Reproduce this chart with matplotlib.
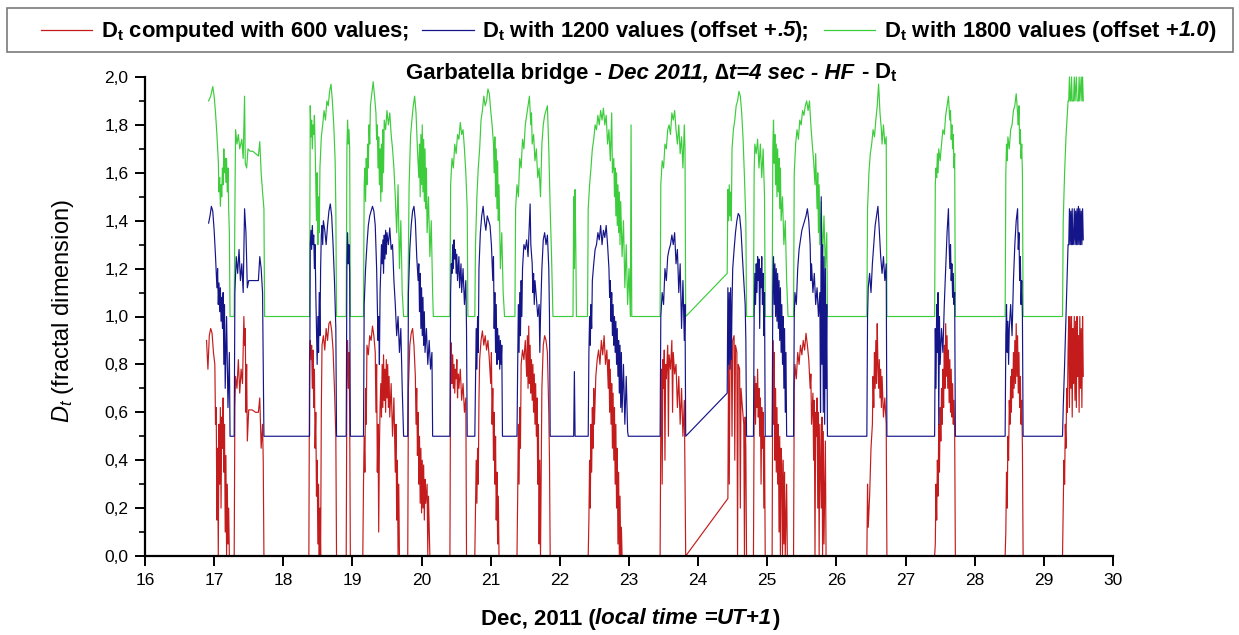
import matplotlib
matplotlib.use("Agg")
import matplotlib.pyplot as plt
from matplotlib.offsetbox import TextArea, HPacker, AnchoredOffsetbox, DrawingArea
from matplotlib.lines import Line2D
from matplotlib.patches import Rectangle
from matplotlib.ticker import MultipleLocator, FuncFormatter

plt.rcParams['font.family'] = 'Liberation Sans'
plt.rcParams['mathtext.fontset'] = 'custom'
plt.rcParams['mathtext.rm'] = 'Liberation Sans'
plt.rcParams['mathtext.it'] = 'Liberation Sans:italic'
plt.rcParams['mathtext.bf'] = 'Liberation Sans:bold'

# D_t computed with 600 values (time in days of Dec 2011, value)
red_pts = [
    (16.89, 0.90), (16.91, 0.78), (16.93, 0.92), (16.95, 0.95), (16.97, 0.93), (16.99, 0.85), (17.01, 0.80),
    (17.02, 0.55), (17.03, 0.62), (17.04, 0.15), (17.05, 0.45), (17.06, 0.00), (17.07, 0.55), (17.08, 0.30),
    (17.09, 0.62), (17.10, 0.20), (17.11, 0.58), (17.12, 0.45), (17.13, 0.66), (17.14, 0.35), (17.15, 0.55),
    (17.16, 0.10), (17.17, 0.42), (17.18, 0.00), (17.19, 0.30), (17.20, 0.05), (17.21, 0.20), (17.22, 0.00),
    (17.29, 0.00), (17.30, 0.62), (17.31, 0.75), (17.33, 0.70), (17.35, 0.82), (17.37, 0.68), (17.39, 0.78),
    (17.41, 0.72), (17.43, 1.00), (17.44, 0.88), (17.45, 0.95), (17.46, 0.60), (17.47, 0.80), (17.48, 0.48),
    (17.50, 0.61), (17.55, 0.61), (17.60, 0.60), (17.64, 0.60), (17.66, 0.66), (17.68, 0.45), (17.70, 0.55),
    (17.71, 0.40), (17.72, 0.00), (18.37, 0.00),
    (18.38, 0.85), (18.39, 0.90), (18.40, 0.82), (18.41, 0.88), (18.42, 0.70), (18.43, 0.86), (18.44, 0.62),
    (18.45, 0.78), (18.46, 0.45), (18.47, 0.60), (18.48, 0.25), (18.49, 0.40), (18.50, 0.05), (18.51, 0.30),
    (18.52, 0.00), (18.53, 0.20), (18.54, 0.00), (18.55, 0.60), (18.56, 0.88), (18.58, 0.92), (18.60, 0.86),
    (18.62, 0.95), (18.64, 0.90), (18.66, 0.97), (18.68, 0.98), (18.70, 0.94), (18.72, 0.86), (18.74, 0.70),
    (18.76, 0.50), (18.77, 0.00), (18.91, 0.00), (18.92, 0.75), (18.93, 0.90), (18.94, 0.70), (18.95, 0.85),
    (18.96, 0.60), (18.97, 0.00), (19.15, 0.00),
    (19.16, 0.30), (19.17, 0.50), (19.18, 0.35), (19.19, 0.70), (19.20, 0.55), (19.21, 0.88), (19.23, 0.84),
    (19.25, 0.92), (19.27, 0.90), (19.29, 0.96), (19.31, 0.92), (19.33, 0.85), (19.34, 0.60), (19.35, 0.80),
    (19.36, 0.35), (19.37, 0.55), (19.38, 0.10), (19.39, 0.45), (19.40, 0.62), (19.41, 0.72), (19.42, 0.58),
    (19.43, 0.80), (19.44, 0.62), (19.45, 0.84), (19.46, 0.65), (19.47, 0.78), (19.48, 0.60), (19.49, 0.82),
    (19.50, 0.66), (19.51, 0.80), (19.52, 0.62), (19.53, 0.75), (19.54, 0.58), (19.56, 0.72), (19.58, 0.50),
    (19.60, 0.66), (19.62, 0.35), (19.63, 0.55), (19.64, 0.15), (19.65, 0.40), (19.66, 0.00), (19.67, 0.30),
    (19.68, 0.00), (19.80, 0.00), (19.81, 0.70), (19.83, 0.88), (19.85, 0.93), (19.87, 0.95), (19.89, 0.88),
    (19.91, 0.75), (19.92, 0.55), (19.93, 0.70), (19.94, 0.42), (19.95, 0.60), (19.96, 0.30), (19.97, 0.50),
    (19.98, 0.22), (19.99, 0.45), (20.00, 0.18), (20.01, 0.40), (20.02, 0.20), (20.03, 0.38), (20.04, 0.15),
    (20.05, 0.32), (20.06, 0.22), (20.08, 0.30), (20.09, 0.00), (20.10, 0.25), (20.12, 0.00), (20.41, 0.00),
    (20.42, 0.80), (20.43, 0.89), (20.44, 0.72), (20.45, 0.84), (20.46, 0.70), (20.47, 0.80), (20.48, 0.68),
    (20.49, 0.78), (20.50, 0.74), (20.51, 0.82), (20.52, 0.66), (20.53, 0.76), (20.54, 0.70), (20.56, 0.78),
    (20.58, 0.65), (20.60, 0.72), (20.62, 0.60), (20.64, 0.66), (20.65, 0.00), (20.77, 0.00),
    (20.78, 0.20), (20.79, 0.40), (20.80, 0.22), (20.81, 0.45), (20.82, 0.30), (20.83, 0.65), (20.84, 0.82),
    (20.86, 0.90), (20.88, 0.94), (20.90, 0.88), (20.92, 0.92), (20.94, 0.86), (20.96, 0.90), (20.98, 0.82),
    (21.00, 0.72), (21.01, 0.85), (21.02, 0.55), (21.03, 0.70), (21.04, 0.40), (21.05, 0.60), (21.06, 0.30),
    (21.07, 0.50), (21.08, 0.15), (21.09, 0.35), (21.10, 0.05), (21.11, 0.25), (21.12, 0.00), (21.38, 0.00),
    (21.39, 0.25), (21.40, 0.55), (21.41, 0.30), (21.42, 0.62), (21.43, 0.45), (21.44, 0.80), (21.46, 0.86),
    (21.48, 0.82), (21.50, 0.90), (21.52, 0.75), (21.53, 0.92), (21.54, 0.70), (21.55, 0.96), (21.56, 0.72),
    (21.57, 0.88), (21.58, 0.68), (21.59, 0.82), (21.60, 0.65), (21.61, 0.80), (21.62, 0.60), (21.63, 0.76),
    (21.64, 0.55), (21.65, 0.72), (21.66, 0.50), (21.67, 0.66), (21.68, 0.30), (21.69, 0.55), (21.70, 0.05),
    (21.71, 0.40), (21.72, 0.00), (21.74, 0.70), (21.76, 0.88), (21.78, 0.92), (21.80, 0.90), (21.82, 0.85),
    (21.84, 0.60), (21.85, 0.40), (21.86, 0.00), (22.41, 0.00),
    (22.42, 0.15), (22.43, 0.40), (22.44, 0.20), (22.45, 0.55), (22.46, 0.35), (22.47, 0.62), (22.48, 0.45),
    (22.49, 0.70), (22.50, 0.55), (22.52, 0.75), (22.54, 0.82), (22.56, 0.86), (22.58, 0.80), (22.60, 0.90),
    (22.62, 0.84), (22.64, 0.92), (22.66, 0.80), (22.68, 0.86), (22.70, 0.70), (22.71, 0.82), (22.72, 0.60),
    (22.73, 0.78), (22.74, 0.55), (22.75, 0.72), (22.76, 0.45), (22.77, 0.68), (22.78, 0.40), (22.79, 0.62),
    (22.80, 0.30), (22.81, 0.55), (22.82, 0.20), (22.83, 0.45), (22.84, 0.05), (22.85, 0.35), (22.86, 0.00),
    (22.87, 0.25), (22.88, 0.00), (22.89, 0.12), (22.90, 0.00), (23.45, 0.00),
    (23.46, 0.55), (23.47, 0.78), (23.48, 0.30), (23.49, 0.82), (23.50, 0.70), (23.51, 0.86), (23.52, 0.40),
    (23.53, 0.80), (23.54, 0.74), (23.56, 0.88), (23.57, 0.50), (23.58, 0.84), (23.60, 0.78), (23.62, 0.90),
    (23.63, 0.60), (23.64, 0.85), (23.66, 0.76), (23.68, 0.80), (23.70, 0.62), (23.72, 0.75), (23.74, 0.55),
    (23.76, 0.70), (23.78, 0.50), (23.80, 0.65), (23.82, 0.00),
    (24.43, 0.24), (24.44, 0.80), (24.45, 0.30), (24.46, 0.78), (24.47, 0.85), (24.48, 0.88), (24.49, 0.50),
    (24.50, 0.90), (24.52, 0.92), (24.53, 0.40), (24.54, 0.88), (24.56, 0.85), (24.57, 0.00), (24.58, 0.80),
    (24.60, 0.78), (24.61, 0.20), (24.62, 0.70), (24.64, 0.62), (24.66, 0.55), (24.67, 0.00), (24.68, 0.58),
    (24.69, 0.45), (24.70, 0.00), (24.80, 0.00), (24.81, 0.60), (24.82, 0.75), (24.83, 0.55), (24.84, 0.72),
    (24.85, 0.62), (24.86, 0.78), (24.87, 0.58), (24.88, 0.70), (24.89, 0.50), (24.90, 0.66), (24.91, 0.30),
    (24.92, 0.62), (24.93, 0.45), (24.94, 0.60), (24.95, 0.20), (24.96, 0.50), (24.97, 0.00), (25.07, 0.00),
    (25.08, 0.90), (25.09, 0.55), (25.10, 0.85), (25.11, 0.40), (25.12, 0.70), (25.13, 0.35), (25.14, 0.62),
    (25.15, 0.30), (25.16, 0.55), (25.17, 0.10), (25.18, 0.50), (25.19, 0.00), (25.20, 0.45), (25.21, 0.38),
    (25.22, 0.00), (25.23, 0.40), (25.24, 0.05), (25.25, 0.35), (25.26, 0.00), (25.28, 0.30), (25.29, 0.00),
    (25.38, 0.00), (25.39, 0.70), (25.40, 0.80), (25.42, 0.74), (25.44, 0.85), (25.46, 0.80), (25.48, 0.88),
    (25.50, 0.84), (25.52, 0.90), (25.54, 0.86), (25.56, 0.93), (25.58, 0.88), (25.60, 0.82), (25.62, 0.70),
    (25.63, 0.76), (25.64, 0.55), (25.66, 0.68), (25.67, 0.40), (25.68, 0.65), (25.69, 0.00), (25.70, 0.60),
    (25.71, 0.50), (25.72, 0.66), (25.73, 0.20), (25.74, 0.60), (25.75, 0.00), (25.76, 0.55), (25.78, 0.20),
    (25.79, 0.58), (25.80, 0.00), (25.81, 0.52), (25.82, 0.05), (25.84, 0.48), (25.85, 0.00), (26.44, 0.00),
    (26.45, 0.30), (26.46, 0.12), (26.48, 0.25), (26.50, 0.45), (26.52, 0.55), (26.53, 0.75), (26.54, 0.62),
    (26.55, 0.85), (26.56, 0.70), (26.57, 0.90), (26.58, 0.72), (26.59, 0.97), (26.60, 0.80), (26.61, 0.70),
    (26.62, 0.82), (26.63, 0.66), (26.64, 0.78), (26.65, 0.62), (26.66, 0.75), (26.68, 0.58), (26.70, 0.66),
    (26.72, 0.55), (26.73, 0.00), (27.42, 0.00),
    (27.43, 0.05), (27.44, 0.30), (27.45, 0.15), (27.46, 0.40), (27.47, 0.25), (27.48, 0.55), (27.49, 0.35),
    (27.50, 0.62), (27.51, 0.48), (27.52, 0.70), (27.53, 0.55), (27.54, 0.78), (27.55, 0.62), (27.56, 0.88),
    (27.57, 0.70), (27.58, 0.97), (27.59, 0.75), (27.60, 0.92), (27.61, 0.70), (27.62, 0.86), (27.63, 0.64),
    (27.64, 0.82), (27.65, 0.60), (27.66, 0.78), (27.67, 0.58), (27.68, 0.72), (27.69, 0.55), (27.70, 0.65),
    (27.71, 0.52), (27.72, 0.00), (28.44, 0.00),
    (28.45, 0.10), (28.46, 0.35), (28.47, 0.20), (28.48, 0.50), (28.49, 0.40), (28.50, 0.65), (28.51, 0.55),
    (28.52, 0.75), (28.53, 0.60), (28.54, 0.78), (28.55, 0.66), (28.56, 0.85), (28.57, 0.70), (28.58, 0.90),
    (28.59, 0.72), (28.60, 0.97), (28.61, 0.75), (28.62, 0.92), (28.63, 0.68), (28.64, 0.85), (28.65, 0.62),
    (28.66, 0.75), (28.67, 0.55), (28.68, 0.65), (28.69, 0.45), (28.70, 0.00), (29.27, 0.00),
    (29.28, 0.20), (29.29, 0.40), (29.30, 0.30), (29.31, 0.55), (29.32, 0.45), (29.33, 0.70), (29.34, 0.60),
    (29.35, 0.85), (29.36, 1.00), (29.37, 0.62), (29.38, 1.00), (29.39, 0.70), (29.40, 1.00), (29.41, 0.58),
    (29.42, 0.95), (29.43, 0.72), (29.44, 1.00), (29.45, 0.65), (29.46, 0.98), (29.47, 0.62), (29.48, 1.00),
    (29.49, 0.75), (29.50, 0.92), (29.51, 0.60), (29.52, 1.00), (29.53, 0.70), (29.54, 0.95), (29.55, 0.62),
    (29.56, 1.00), (29.57, 0.75),
]

# D_t with 1200 values, offset +0.5
blue_pts = [
    (16.92, 1.39), (16.94, 1.42), (16.96, 1.46), (16.98, 1.44), (17.00, 1.36), (17.02, 1.25), (17.04, 1.12),
    (17.05, 1.20), (17.06, 1.05), (17.07, 1.14), (17.08, 1.02), (17.09, 1.12), (17.10, 0.98), (17.11, 1.08),
    (17.12, 0.95), (17.13, 1.10), (17.14, 0.80), (17.15, 1.05), (17.16, 0.70), (17.18, 1.00), (17.20, 0.62),
    (17.22, 0.85), (17.23, 0.50), (17.29, 0.50), (17.30, 1.10), (17.32, 1.25), (17.34, 1.18), (17.36, 1.28),
    (17.38, 1.15), (17.40, 1.22), (17.42, 1.10), (17.44, 1.45), (17.45, 1.40), (17.46, 1.35), (17.48, 1.12),
    (17.50, 1.15), (17.55, 1.15), (17.60, 1.15), (17.64, 1.15), (17.66, 1.25), (17.68, 1.20), (17.70, 1.10),
    (17.72, 0.50), (18.38, 0.50),
    (18.39, 1.30), (18.40, 1.36), (18.41, 1.28), (18.42, 1.38), (18.43, 1.30), (18.44, 1.34), (18.45, 1.20),
    (18.46, 1.30), (18.47, 1.10), (18.48, 0.95), (18.49, 0.80), (18.50, 1.00), (18.51, 0.85), (18.52, 1.10),
    (18.53, 0.92), (18.54, 1.20), (18.55, 1.34), (18.56, 1.38), (18.57, 1.30), (18.58, 1.40), (18.60, 1.36),
    (18.62, 1.30), (18.64, 1.38), (18.66, 1.44), (18.68, 1.47), (18.70, 1.42), (18.72, 1.30), (18.74, 1.15),
    (18.76, 0.95), (18.77, 0.50), (18.91, 0.50), (18.92, 1.20), (18.93, 1.35), (18.94, 1.22), (18.95, 1.30),
    (18.96, 1.18), (18.97, 0.50), (19.16, 0.50),
    (19.17, 1.05), (19.19, 1.20), (19.21, 1.30), (19.23, 1.38), (19.25, 1.42), (19.27, 1.44), (19.29, 1.46),
    (19.31, 1.44), (19.33, 1.38), (19.35, 1.20), (19.36, 1.05), (19.37, 0.90), (19.38, 1.00), (19.39, 0.80),
    (19.40, 1.10), (19.41, 1.20), (19.42, 1.30), (19.43, 1.22), (19.44, 1.32), (19.45, 1.18), (19.46, 1.34),
    (19.47, 1.24), (19.48, 1.36), (19.49, 1.26), (19.50, 1.35), (19.52, 1.30), (19.54, 1.37), (19.56, 1.28),
    (19.58, 1.30), (19.60, 1.15), (19.62, 1.05), (19.64, 0.92), (19.66, 1.00), (19.68, 0.85), (19.70, 0.95),
    (19.72, 0.70), (19.74, 0.50), (19.80, 0.50), (19.81, 1.10), (19.83, 1.28), (19.85, 1.38), (19.87, 1.44),
    (19.89, 1.46), (19.91, 1.40), (19.93, 1.25), (19.95, 1.15), (19.96, 1.22), (19.97, 1.02), (19.98, 1.18),
    (19.99, 0.95), (20.00, 1.12), (20.01, 0.92), (20.02, 1.08), (20.03, 0.88), (20.04, 1.02), (20.05, 0.85),
    (20.07, 0.95), (20.09, 0.80), (20.11, 0.90), (20.13, 0.78), (20.15, 0.85), (20.16, 0.50), (20.41, 0.50),
    (20.42, 1.10), (20.43, 1.22), (20.44, 1.18), (20.45, 1.30), (20.46, 1.20), (20.47, 1.32), (20.48, 1.24),
    (20.49, 1.28), (20.50, 1.18), (20.51, 1.26), (20.52, 1.15), (20.54, 1.25), (20.55, 1.12), (20.57, 1.22),
    (20.58, 1.10), (20.60, 1.20), (20.62, 1.05), (20.64, 1.15), (20.65, 0.95), (20.66, 0.50), (20.77, 0.50),
    (20.78, 0.72), (20.79, 0.95), (20.80, 0.78), (20.81, 1.00), (20.82, 0.85), (20.83, 1.20), (20.85, 1.35),
    (20.87, 1.42), (20.89, 1.46), (20.91, 1.40), (20.93, 1.36), (20.95, 1.42), (20.97, 1.40), (20.99, 1.38),
    (21.01, 1.30), (21.03, 1.15), (21.04, 1.25), (21.05, 0.95), (21.06, 1.10), (21.07, 0.85), (21.08, 1.05),
    (21.09, 0.80), (21.10, 0.95), (21.11, 0.82), (21.12, 0.92), (21.13, 0.78), (21.14, 0.90), (21.15, 0.80),
    (21.16, 0.88), (21.17, 0.50), (21.38, 0.50),
    (21.39, 0.80), (21.40, 1.05), (21.41, 0.85), (21.42, 1.10), (21.43, 0.92), (21.44, 1.15), (21.45, 1.00),
    (21.46, 1.20), (21.48, 1.30), (21.50, 1.28), (21.52, 1.32), (21.54, 1.25), (21.56, 1.40), (21.57, 1.47),
    (21.58, 1.30), (21.60, 1.22), (21.61, 1.10), (21.62, 1.18), (21.63, 1.05), (21.64, 1.15), (21.66, 1.08),
    (21.68, 1.00), (21.70, 1.05), (21.71, 0.85), (21.72, 1.00), (21.74, 1.20), (21.76, 1.32), (21.78, 1.35),
    (21.80, 1.30), (21.82, 1.34), (21.84, 1.20), (21.85, 1.00), (21.86, 0.50), (22.20, 0.50), (22.21, 0.77),
    (22.22, 0.50), (22.41, 0.50),
    (22.42, 0.85), (22.43, 1.00), (22.44, 0.88), (22.45, 1.05), (22.46, 0.95), (22.47, 1.15), (22.49, 1.22),
    (22.51, 1.28), (22.53, 1.30), (22.55, 1.35), (22.57, 1.32), (22.59, 1.38), (22.61, 1.30), (22.63, 1.36),
    (22.65, 1.33), (22.67, 1.38), (22.69, 1.30), (22.71, 1.20), (22.72, 1.08), (22.73, 1.15), (22.74, 0.98),
    (22.75, 1.10), (22.76, 0.92), (22.77, 1.05), (22.78, 0.88), (22.79, 1.00), (22.80, 0.85), (22.81, 0.98),
    (22.82, 0.80), (22.83, 0.95), (22.84, 0.75), (22.85, 0.90), (22.86, 0.68), (22.87, 0.88), (22.88, 0.62),
    (22.89, 0.85), (22.90, 0.60), (22.92, 0.80), (22.94, 0.55), (22.96, 0.75), (22.98, 0.52), (22.99, 0.50),
    (23.45, 0.50), (23.46, 1.00), (23.48, 1.10), (23.50, 1.05), (23.52, 1.20), (23.54, 1.15), (23.56, 1.25),
    (23.58, 1.28), (23.60, 1.30), (23.62, 1.34), (23.64, 1.30), (23.66, 1.35), (23.68, 1.22), (23.70, 1.28),
    (23.72, 1.10), (23.74, 1.22), (23.76, 0.95), (23.78, 1.15), (23.80, 0.90), (23.81, 1.05), (23.82, 0.50),
    (24.42, 0.68), (24.43, 1.12), (24.44, 0.80), (24.45, 1.10), (24.46, 0.78), (24.47, 1.12), (24.48, 0.82),
    (24.49, 1.05), (24.50, 1.20), (24.52, 1.28), (24.54, 1.35), (24.56, 1.40), (24.58, 1.43), (24.60, 1.42),
    (24.62, 1.36), (24.64, 1.25), (24.66, 1.15), (24.68, 1.05), (24.69, 0.90), (24.70, 0.50), (24.80, 0.50),
    (24.81, 1.00), (24.82, 1.18), (24.83, 1.05), (24.84, 1.22), (24.85, 1.10), (24.86, 1.25), (24.87, 1.15),
    (24.88, 1.24), (24.89, 0.95), (24.90, 1.20), (24.91, 1.12), (24.92, 1.25), (24.93, 1.05), (24.94, 1.18),
    (24.95, 0.92), (24.96, 1.10), (24.97, 0.50), (25.07, 0.50),
    (25.08, 1.10), (25.09, 1.25), (25.10, 1.05), (25.11, 1.22), (25.12, 1.00), (25.13, 1.20), (25.14, 0.98),
    (25.15, 1.18), (25.16, 0.95), (25.17, 1.15), (25.18, 0.90), (25.19, 1.12), (25.20, 0.85), (25.21, 1.05),
    (25.22, 0.80), (25.23, 1.00), (25.24, 0.70), (25.25, 0.95), (25.26, 0.60), (25.27, 0.85), (25.28, 0.50),
    (25.38, 0.50), (25.39, 1.00), (25.40, 1.10), (25.42, 1.05), (25.44, 1.20), (25.46, 1.28), (25.48, 1.32),
    (25.50, 1.36), (25.52, 1.38), (25.54, 1.40), (25.56, 1.42), (25.58, 1.45), (25.60, 1.40), (25.62, 1.30),
    (25.63, 1.15), (25.64, 1.22), (25.66, 1.10), (25.68, 1.18), (25.70, 1.05), (25.72, 1.12), (25.74, 1.00),
    (25.76, 1.10), (25.77, 0.60), (25.78, 1.50), (25.79, 0.80), (25.80, 1.30), (25.81, 0.60), (25.82, 1.25),
    (25.83, 0.55), (25.84, 1.20), (25.85, 0.70), (25.86, 1.05), (25.87, 0.50), (26.44, 0.50),
    (26.45, 1.00), (26.46, 1.12), (26.48, 1.18), (26.50, 1.10), (26.52, 1.22), (26.54, 1.30), (26.56, 1.38),
    (26.58, 1.42), (26.60, 1.46), (26.62, 1.36), (26.64, 1.25), (26.66, 1.18), (26.68, 1.25), (26.70, 1.15),
    (26.72, 1.22), (26.73, 0.50), (27.42, 0.50),
    (27.43, 0.95), (27.44, 0.70), (27.45, 1.05), (27.46, 0.85), (27.47, 1.10), (27.48, 0.55), (27.49, 1.00),
    (27.50, 0.80), (27.52, 0.95), (27.54, 0.85), (27.56, 1.05), (27.58, 1.20), (27.60, 1.35), (27.62, 1.45),
    (27.63, 1.30), (27.64, 1.20), (27.65, 1.30), (27.66, 1.15), (27.67, 1.22), (27.68, 1.08), (27.69, 1.18),
    (27.70, 1.05), (27.71, 1.10), (27.72, 0.50), (28.44, 0.50),
    (28.45, 0.92), (28.46, 1.05), (28.47, 0.85), (28.48, 0.98), (28.49, 0.80), (28.50, 0.95), (28.52, 1.05),
    (28.54, 0.92), (28.56, 1.15), (28.58, 1.30), (28.60, 1.40), (28.62, 1.45), (28.63, 1.28), (28.64, 1.35),
    (28.65, 1.15), (28.66, 1.25), (28.67, 1.05), (28.68, 1.15), (28.69, 1.00), (28.70, 0.50), (29.27, 0.50),
    (29.28, 0.62), (29.30, 0.80), (29.32, 1.00), (29.34, 1.20), (29.35, 1.30), (29.36, 1.30), (29.37, 1.45),
    (29.38, 1.30), (29.39, 1.44), (29.40, 1.30), (29.41, 1.45), (29.42, 1.30), (29.43, 1.32), (29.44, 1.45),
    (29.45, 1.30), (29.46, 1.44), (29.47, 1.30), (29.48, 1.45), (29.49, 1.30), (29.50, 1.46), (29.51, 1.30),
    (29.52, 1.45), (29.53, 1.30), (29.54, 1.44), (29.55, 1.30), (29.56, 1.45), (29.57, 1.32),
]

# D_t with 1800 values, offset +1.0
green_pts = [
    (16.92, 1.90), (16.95, 1.92), (16.98, 1.96), (17.00, 1.92), (17.02, 1.85), (17.04, 1.76), (17.06, 1.65),
    (17.07, 1.52), (17.08, 1.58), (17.09, 1.46), (17.10, 1.55), (17.11, 1.50), (17.12, 1.62), (17.13, 1.55),
    (17.14, 1.70), (17.15, 1.60), (17.16, 1.66), (17.17, 1.56), (17.18, 1.66), (17.19, 1.52), (17.20, 1.62),
    (17.21, 1.45), (17.22, 1.35), (17.23, 1.00), (17.29, 1.00), (17.30, 1.45), (17.31, 1.78), (17.33, 1.72),
    (17.35, 1.76), (17.37, 1.70), (17.40, 1.74), (17.42, 1.66), (17.44, 1.92), (17.45, 1.64), (17.47, 1.62),
    (17.49, 1.70), (17.52, 1.69), (17.56, 1.69), (17.60, 1.68), (17.64, 1.67), (17.66, 1.73), (17.68, 1.60),
    (17.70, 1.52), (17.72, 1.45), (17.73, 1.00), (18.38, 1.00),
    (18.39, 1.88), (18.40, 1.75), (18.41, 1.82), (18.42, 1.70), (18.43, 1.80), (18.44, 1.76), (18.45, 1.84),
    (18.46, 1.72), (18.47, 1.55), (18.48, 1.40), (18.49, 1.60), (18.50, 1.30), (18.51, 1.50), (18.52, 1.35),
    (18.53, 1.62), (18.55, 1.75), (18.57, 1.80), (18.59, 1.86), (18.61, 1.82), (18.63, 1.90), (18.65, 1.88),
    (18.67, 1.94), (18.69, 1.97), (18.71, 1.90), (18.73, 1.80), (18.75, 1.65), (18.76, 1.45), (18.77, 1.00),
    (18.91, 1.00), (18.92, 1.70), (18.93, 1.82), (18.94, 1.72), (18.95, 1.78), (18.96, 1.70), (18.97, 1.00),
    (19.16, 1.00),
    (19.17, 1.55), (19.18, 1.62), (19.19, 1.48), (19.20, 1.66), (19.21, 1.55), (19.22, 1.72), (19.23, 1.62),
    (19.24, 1.80), (19.25, 1.72), (19.26, 1.88), (19.28, 1.93), (19.30, 1.98), (19.32, 1.92), (19.34, 1.85),
    (19.35, 1.74), (19.36, 1.80), (19.37, 1.62), (19.38, 1.75), (19.39, 1.55), (19.40, 1.70), (19.41, 1.48),
    (19.42, 1.72), (19.43, 1.52), (19.44, 1.78), (19.45, 1.60), (19.46, 1.82), (19.48, 1.78), (19.50, 1.86),
    (19.52, 1.80), (19.54, 1.85), (19.56, 1.76), (19.58, 1.70), (19.60, 1.62), (19.62, 1.50), (19.64, 1.35),
    (19.66, 1.55), (19.68, 1.20), (19.70, 1.40), (19.72, 1.10), (19.74, 1.00), (19.80, 1.00),
    (19.82, 1.55), (19.84, 1.75), (19.86, 1.82), (19.88, 1.88), (19.90, 1.92), (19.92, 1.85), (19.94, 1.70),
    (19.96, 1.58), (19.97, 1.72), (19.98, 1.50), (19.99, 1.76), (20.00, 1.55), (20.01, 1.80), (20.02, 1.52),
    (20.03, 1.74), (20.04, 1.48), (20.05, 1.70), (20.06, 1.45), (20.07, 1.62), (20.08, 1.35), (20.10, 1.50),
    (20.12, 1.25), (20.14, 1.40), (20.16, 1.10), (20.17, 1.00), (20.41, 1.00),
    (20.42, 1.55), (20.44, 1.66), (20.46, 1.62), (20.48, 1.72), (20.50, 1.68), (20.52, 1.76), (20.54, 1.74),
    (20.56, 1.81), (20.58, 1.76), (20.60, 1.78), (20.62, 1.70), (20.64, 1.60), (20.66, 1.45), (20.67, 1.00),
    (20.77, 1.00), (20.78, 1.30), (20.80, 1.50), (20.82, 1.62), (20.84, 1.70), (20.86, 1.82), (20.88, 1.86),
    (20.90, 1.92), (20.92, 1.88), (20.94, 1.90), (20.96, 1.95), (20.98, 1.93), (21.00, 1.86), (21.02, 1.80),
    (21.04, 1.72), (21.05, 1.60), (21.06, 1.75), (21.07, 1.50), (21.08, 1.70), (21.09, 1.45), (21.10, 1.65),
    (21.11, 1.40), (21.12, 1.55), (21.14, 1.20), (21.16, 1.35), (21.18, 1.10), (21.20, 1.00), (21.35, 1.00),
    (21.36, 1.45), (21.38, 1.55), (21.40, 1.50), (21.42, 1.66), (21.44, 1.62), (21.46, 1.74), (21.48, 1.70),
    (21.50, 1.80), (21.52, 1.84), (21.54, 1.88), (21.56, 1.92), (21.58, 1.80), (21.59, 1.85), (21.60, 1.72),
    (21.62, 1.76), (21.64, 1.65), (21.66, 1.70), (21.68, 1.58), (21.70, 1.62), (21.72, 1.50), (21.74, 1.72),
    (21.76, 1.80), (21.78, 1.84), (21.80, 1.86), (21.82, 1.88), (21.84, 1.70), (21.86, 1.45), (21.88, 1.25),
    (21.90, 1.00), (22.19, 1.00), (22.20, 1.50), (22.21, 1.20), (22.22, 1.53), (22.23, 1.30), (22.24, 1.00),
    (22.40, 1.00),
    (22.41, 1.45), (22.43, 1.55), (22.45, 1.62), (22.47, 1.70), (22.49, 1.74), (22.51, 1.80), (22.53, 1.78),
    (22.55, 1.84), (22.57, 1.80), (22.59, 1.86), (22.61, 1.82), (22.63, 1.87), (22.65, 1.80), (22.67, 1.84),
    (22.69, 1.72), (22.71, 1.78), (22.73, 1.65), (22.75, 1.85), (22.76, 1.60), (22.78, 1.66), (22.79, 1.50),
    (22.80, 1.62), (22.81, 1.42), (22.82, 1.60), (22.83, 1.38), (22.84, 1.55), (22.85, 1.35), (22.86, 1.52),
    (22.87, 1.30), (22.88, 1.48), (22.90, 1.25), (22.92, 1.40), (22.94, 1.12), (22.96, 1.30), (22.98, 1.05),
    (23.00, 1.20), (23.02, 1.00), (23.03, 1.80), (23.04, 1.00), (23.45, 1.00),
    (23.46, 1.55), (23.48, 1.65), (23.50, 1.62), (23.52, 1.72), (23.54, 1.70), (23.56, 1.78), (23.58, 1.80),
    (23.60, 1.76), (23.62, 1.85), (23.64, 1.82), (23.66, 1.86), (23.68, 1.78), (23.70, 1.72), (23.72, 1.80),
    (23.74, 1.68), (23.76, 1.75), (23.78, 1.62), (23.80, 1.80), (23.81, 1.70), (23.82, 1.00),
    (24.42, 1.18), (24.43, 1.53), (24.44, 1.40), (24.45, 1.55), (24.46, 1.42), (24.47, 1.52), (24.48, 1.40),
    (24.49, 1.70), (24.51, 1.78), (24.53, 1.82), (24.55, 1.88), (24.57, 1.90), (24.59, 1.94), (24.61, 1.92),
    (24.63, 1.85), (24.65, 1.74), (24.67, 1.58), (24.69, 1.40), (24.70, 1.00), (24.80, 1.00), (24.81, 1.60),
    (24.82, 1.72), (24.84, 1.68), (24.86, 1.74), (24.88, 1.62), (24.90, 1.72), (24.92, 1.58), (24.94, 1.70),
    (24.96, 1.50), (24.97, 1.00), (25.07, 1.00),
    (25.08, 1.70), (25.09, 1.82), (25.10, 1.64), (25.11, 1.76), (25.12, 1.55), (25.13, 1.72), (25.14, 1.50),
    (25.15, 1.70), (25.16, 1.52), (25.17, 1.66), (25.18, 1.45), (25.19, 1.62), (25.20, 1.40), (25.22, 1.50),
    (25.24, 1.30), (25.26, 1.40), (25.28, 1.15), (25.30, 1.00), (25.38, 1.00), (25.39, 1.60), (25.41, 1.72),
    (25.43, 1.78), (25.45, 1.74), (25.47, 1.82), (25.49, 1.80), (25.51, 1.86), (25.53, 1.84), (25.55, 1.88),
    (25.57, 1.90), (25.59, 1.86), (25.61, 1.90), (25.63, 1.80), (25.65, 1.72), (25.67, 1.65), (25.69, 1.55),
    (25.70, 1.68), (25.72, 1.45), (25.73, 1.60), (25.74, 1.35), (25.75, 1.55), (25.76, 1.30), (25.78, 1.48),
    (25.80, 1.25), (25.82, 1.42), (25.84, 1.20), (25.86, 1.35), (25.87, 1.00), (26.44, 1.00),
    (26.45, 1.45), (26.47, 1.60), (26.49, 1.68), (26.51, 1.72), (26.53, 1.78), (26.55, 1.75), (26.57, 1.82),
    (26.59, 1.88), (26.61, 1.97), (26.63, 1.85), (26.65, 1.78), (26.66, 1.72), (26.68, 1.80), (26.70, 1.72),
    (26.72, 1.75), (26.73, 1.00), (27.42, 1.00),
    (27.43, 1.55), (27.44, 1.62), (27.45, 1.58), (27.46, 1.68), (27.47, 1.60), (27.48, 1.70), (27.50, 1.65),
    (27.52, 1.72), (27.54, 1.78), (27.56, 1.76), (27.58, 1.84), (27.60, 1.88), (27.62, 1.92), (27.64, 1.82),
    (27.65, 1.86), (27.66, 1.74), (27.67, 1.80), (27.68, 1.70), (27.69, 1.76), (27.70, 1.62), (27.71, 1.68),
    (27.72, 1.00), (28.44, 1.00),
    (28.45, 1.60), (28.46, 1.72), (28.47, 1.65), (28.48, 1.75), (28.50, 1.70), (28.52, 1.78), (28.54, 1.80),
    (28.56, 1.86), (28.58, 1.88), (28.60, 1.93), (28.62, 1.85), (28.63, 1.80), (28.64, 1.88), (28.65, 1.72),
    (28.66, 1.78), (28.67, 1.66), (28.68, 1.72), (28.69, 1.60), (28.70, 1.00), (29.27, 1.00),
    (29.28, 1.40), (29.30, 1.60), (29.32, 1.75), (29.34, 1.85), (29.35, 1.90), (29.36, 1.90), (29.37, 2.00),
    (29.38, 1.90), (29.39, 1.90), (29.40, 2.00), (29.41, 1.90), (29.43, 1.90), (29.44, 2.00), (29.45, 1.90),
    (29.47, 2.00), (29.48, 1.90), (29.50, 1.90), (29.51, 2.00), (29.52, 1.90), (29.54, 2.00), (29.55, 1.90),
    (29.56, 2.00), (29.57, 1.90),
]

red_color = '#c41c1c'
blue_color = '#15158a'
green_color = '#3ccc3c'

W, H = 1239, 635
fig = plt.figure(figsize=(W / 100, H / 100), dpi=100)
ax = fig.add_axes([145 / W, 1 - 556 / H, (1113 - 145) / W, (556 - 77) / H])

for pts, col in [(green_pts, green_color), (red_pts, red_color), (blue_pts, blue_color)]:
    xs = [p[0] for p in pts]
    ys = [p[1] for p in pts]
    ax.plot(xs, ys, color=col, lw=0.85, clip_on=False)

ax.set_xlim(16, 30)
ax.set_ylim(0, 2.0)
ax.spines['top'].set_visible(False)
ax.spines['right'].set_visible(False)
for s in ['left', 'bottom']:
    ax.spines[s].set_linewidth(1.6)
ax.xaxis.set_major_locator(MultipleLocator(1))
ax.yaxis.set_major_locator(MultipleLocator(0.2))
ax.yaxis.set_minor_locator(MultipleLocator(0.1))
ax.yaxis.set_major_formatter(FuncFormatter(lambda v, p: f"{v:.1f}".replace('.', ',')))
ax.tick_params(axis='both', which='major', direction='out', length=7, width=1.4, labelsize=12.5, pad=5)
ax.tick_params(axis='y', which='minor', direction='out', length=4, width=1.2)


def rich(x, y, items, size, loc='center'):
    boxes = []
    for it in items:
        if isinstance(it, (int, float)):
            boxes.append(DrawingArea(it, 1, 0, 0))
        elif isinstance(it, DrawingArea):
            boxes.append(it)
        else:
            s, style = it
            boxes.append(TextArea(s, textprops=dict(fontsize=size, fontweight='bold', **style)))
    pack = HPacker(children=boxes, align='baseline', pad=0, sep=0)
    ab = AnchoredOffsetbox(loc=loc, child=pack, bbox_to_anchor=(x, y),
                           bbox_transform=fig.transFigure, frameon=False, pad=0, borderpad=0)
    fig.add_artist(ab)


def sample(col, w=37):
    da = DrawingArea(w, 10, 0, 0)
    da.add_artist(Line2D([0, w], [5.0, 5.0], color=col, lw=0.9))
    return da


up = {}
it = {'fontstyle': 'italic'}

# title inside the plot area
rich(652 / W, 1 - 73 / H,
     [("Garbatella bridge -", up), 4.4, ("Dec 2011, \u2206t=4 sec - HF", it), 4.4,
      ("- D$_\\mathbf{t}$", up)], 16)

# x label
rich(630 / W, 1 - 619 / H,
     [("Dec, 2011 (", up), ("local time", it), 4.4, ("=", up), ("UT+1", it), (")", up)], 16)

# y label
fig.text(63 / W, 1 - 311 / H, r"$\mathit{D}_\mathit{t}$ (fractal dimension)", rotation=90,
         ha='center', va='center', fontsize=17)

# legend strip
fig.add_artist(Rectangle((7 / W, 1 - 52 / H), (1233 - 7) / W, 44 / H, transform=fig.transFigure,
                         fill=False, edgecolor='#7a7a7a', lw=1.2))
rich(41 / W, 1 - 31 / H,
     [sample(red_color), 6, ("D$_\\mathbf{t}$ computed with 600 values;", up), 10,
      sample(blue_color), 6, ("D$_\\mathbf{t}$ with 1200 values (offset +", up), (".5", it), (");", up), 10,
      sample(green_color), 6, ("D$_\\mathbf{t}$ with 1800 values (offset +", up), ("1.0", it), (")", up)],
     15.8, loc='center left')

fig.savefig("out.png", dpi=100)
